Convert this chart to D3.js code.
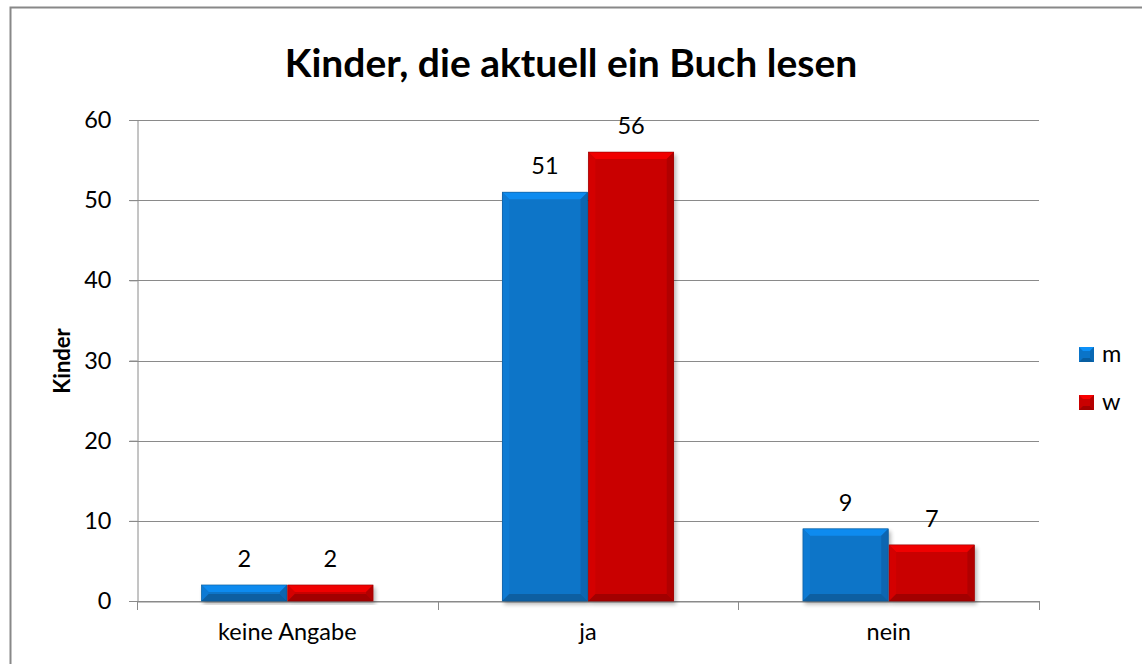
<!DOCTYPE html>
<html>
<head>
<meta charset="utf-8">
<script src="https://cdn.jsdelivr.net/npm/d3@7"></script>
<style>
  html, body { margin: 0; padding: 0; background: #fff; overflow: hidden; }
  text { font-family: Lato, "Open Sans", sans-serif; fill: #000; }
</style>
</head>
<body>
<script>
const categories = ['keine Angabe', 'ja', 'nein'];
const seriesNames = ['m', 'w'];
const mValues = [2, 51, 9];
const wValues = [2, 56, 7];
const yTicks = [0, 10, 20, 30, 40, 50, 60];

const colors = { m: '#0a74c8', w: '#c90000' };
const W = 1142, H = 664;
const margin = { left: 137, right: 1039, top: 120, bottom: 601 };
const FS = 23.5;

const svg = d3.select('body').append('svg')
  .attr('width', W).attr('height', H);

// outer chart frame (runs past the right and bottom edge)
svg.append('rect')
  .attr('x', 10.5).attr('y', 7.5)
  .attr('width', W + 20).attr('height', H + 20)
  .attr('fill', 'none').attr('stroke', '#888').attr('stroke-width', 2);

const x = d3.scaleBand().domain(categories).range([margin.left, margin.right]);
const x1 = d3.scaleBand().domain(seriesNames).range([0, x.bandwidth()]).paddingOuter(0.75).paddingInner(0.01);
const y = d3.scaleLinear().domain([0, 60]).range([margin.bottom, margin.top]);

// grid lines
svg.append('g').selectAll('line').data(yTicks).join('line')
  .attr('x1', margin.left - 8).attr('x2', margin.right)
  .attr('y1', d => Math.round(y(d)) + 0.5).attr('y2', d => Math.round(y(d)) + 0.5)
  .attr('stroke', '#8a8a8a').attr('stroke-width', 1);

// y axis
const yAxis = svg.append('g').attr('transform', `translate(${margin.left + 0.5},0)`)
  .call(d3.axisLeft(y).tickValues(yTicks).tickSize(8).tickPadding(18));
yAxis.select('.domain').attr('stroke', '#8a8a8a');
yAxis.selectAll('.tick line').attr('stroke', '#8a8a8a');
yAxis.selectAll('.tick text').style('font-size', FS + 'px').style('font-family', 'Lato, sans-serif');

// x axis
const xAxis = svg.append('g').attr('transform', `translate(0,${Math.round(y(0)) + 0.5})`)
  .call(d3.axisBottom(x).tickSize(0).tickPadding(22));
xAxis.select('.domain').attr('stroke', '#8a8a8a');
xAxis.selectAll('.tick text').style('font-size', FS + 'px').style('font-family', 'Lato, sans-serif');
// category separators
svg.append('g').selectAll('line')
  .data(d3.range(categories.length + 1))
  .join('line')
  .attr('x1', i => Math.round(margin.left + i * x.bandwidth()) + 0.5)
  .attr('x2', i => Math.round(margin.left + i * x.bandwidth()) + 0.5)
  .attr('y1', margin.bottom).attr('y2', margin.bottom + 9)
  .attr('stroke', '#8a8a8a');

// bars with bevel
const rows = [];
categories.forEach((c, i) => {
  rows.push({ cat: c, s: 'm', v: mValues[i] });
  rows.push({ cat: c, s: 'w', v: wValues[i] });
});

const defs = svg.append('defs');
const shadow = defs.append('filter').attr('id', 'shadow').attr('x', '-10%').attr('y', '-10%').attr('width', '130%').attr('height', '130%');
shadow.append('feGaussianBlur').attr('in', 'SourceAlpha').attr('stdDeviation', 2);
shadow.append('feOffset').attr('dx', 1.5).attr('dy', 2.5).attr('result', 'b');
shadow.append('feComponentTransfer').append('feFuncA').attr('type', 'linear').attr('slope', 0.3);
const mg = shadow.append('feMerge');
mg.append('feMergeNode');
mg.append('feMergeNode').attr('in', 'SourceGraphic');

const bars = svg.append('g').selectAll('g').data(rows).join('g')
  .attr('filter', 'url(#shadow)');

bars.each(function (d) {
  const g = d3.select(this);
  const bx = x(d.cat) + x1(d.s), bw = x1.bandwidth();
  const by = y(d.v), bh = y(0) - y(d.v);
  const base = d3.color(colors[d.s]);
  const b = Math.min(7, bh / 2.2);
  g.append('rect').attr('x', bx).attr('y', by).attr('width', bw).attr('height', bh).attr('fill', base);
  // top
  g.append('polygon').attr('points', [[bx, by], [bx + bw, by], [bx + bw - b, by + b], [bx + b, by + b]].join(' '))
    .attr('fill', base.brighter(0.5));
  // left
  g.append('polygon').attr('points', [[bx, by], [bx + b, by + b], [bx + b, by + bh - b], [bx, by + bh]].join(' '))
    .attr('fill', base.brighter(0.15));
  // right
  g.append('polygon').attr('points', [[bx + bw, by], [bx + bw, by + bh], [bx + bw - b, by + bh - b], [bx + bw - b, by + b]].join(' '))
    .attr('fill', base.darker(0.35));
  // bottom
  g.append('polygon').attr('points', [[bx, by + bh], [bx + b, by + bh - b], [bx + bw - b, by + bh - b], [bx + bw, by + bh]].join(' '))
    .attr('fill', base.darker(0.6));
  g.append('rect').attr('x', bx).attr('y', by).attr('width', bw).attr('height', bh)
    .attr('fill', 'none').attr('stroke', base.darker(0.8)).attr('stroke-width', 0.6);
});

// data labels
svg.append('g').selectAll('text').data(rows).join('text')
  .attr('x', d => x(d.cat) + x1(d.s) + x1.bandwidth() / 2)
  .attr('y', d => y(d.v) - 18)
  .attr('text-anchor', 'middle')
  .style('font-size', FS + 'px')
  .text(d => d.v);

// title
const title = svg.append('text')
  .attr('x', 571).attr('y', 77)
  .attr('text-anchor', 'middle')
  .style('font-size', '40px').style('font-weight', 'bold')
  .text('Kinder, die aktuell ein Buch lesen');
const tw = title.node().getComputedTextLength();
title.style('font-size', (40 * 573 / tw).toFixed(1) + 'px');

// y axis title
svg.append('text')
  .attr('transform', 'translate(70,361) rotate(-90)')
  .attr('text-anchor', 'middle')
  .style('font-size', '22px').style('font-weight', 'bold')
  .text('Kinder');

// legend
const legend = svg.append('g').selectAll('g').data(seriesNames).join('g')
  .attr('transform', (d, i) => `translate(1079,${347 + i * 48})`);
legend.each(function (s) {
  const g = d3.select(this);
  const base = d3.color(colors[s]);
  const sz = 15, b = 4;
  g.append('rect').attr('width', sz).attr('height', sz).attr('fill', base);
  g.append('polygon').attr('points', [[0, 0], [sz, 0], [sz - b, b], [b, b]].join(' ')).attr('fill', base.brighter(0.6));
  g.append('polygon').attr('points', [[0, sz], [b, sz - b], [sz - b, sz - b], [sz, sz]].join(' ')).attr('fill', base.darker(0.6));
  g.append('polygon').attr('points', [[sz, 0], [sz, sz], [sz - b, sz - b], [sz - b, b]].join(' ')).attr('fill', base.darker(0.3));
  g.append('text').attr('x', 23).attr('y', 15).style('font-size', FS + 'px').text(s);
});
</script>
</body>
</html>
